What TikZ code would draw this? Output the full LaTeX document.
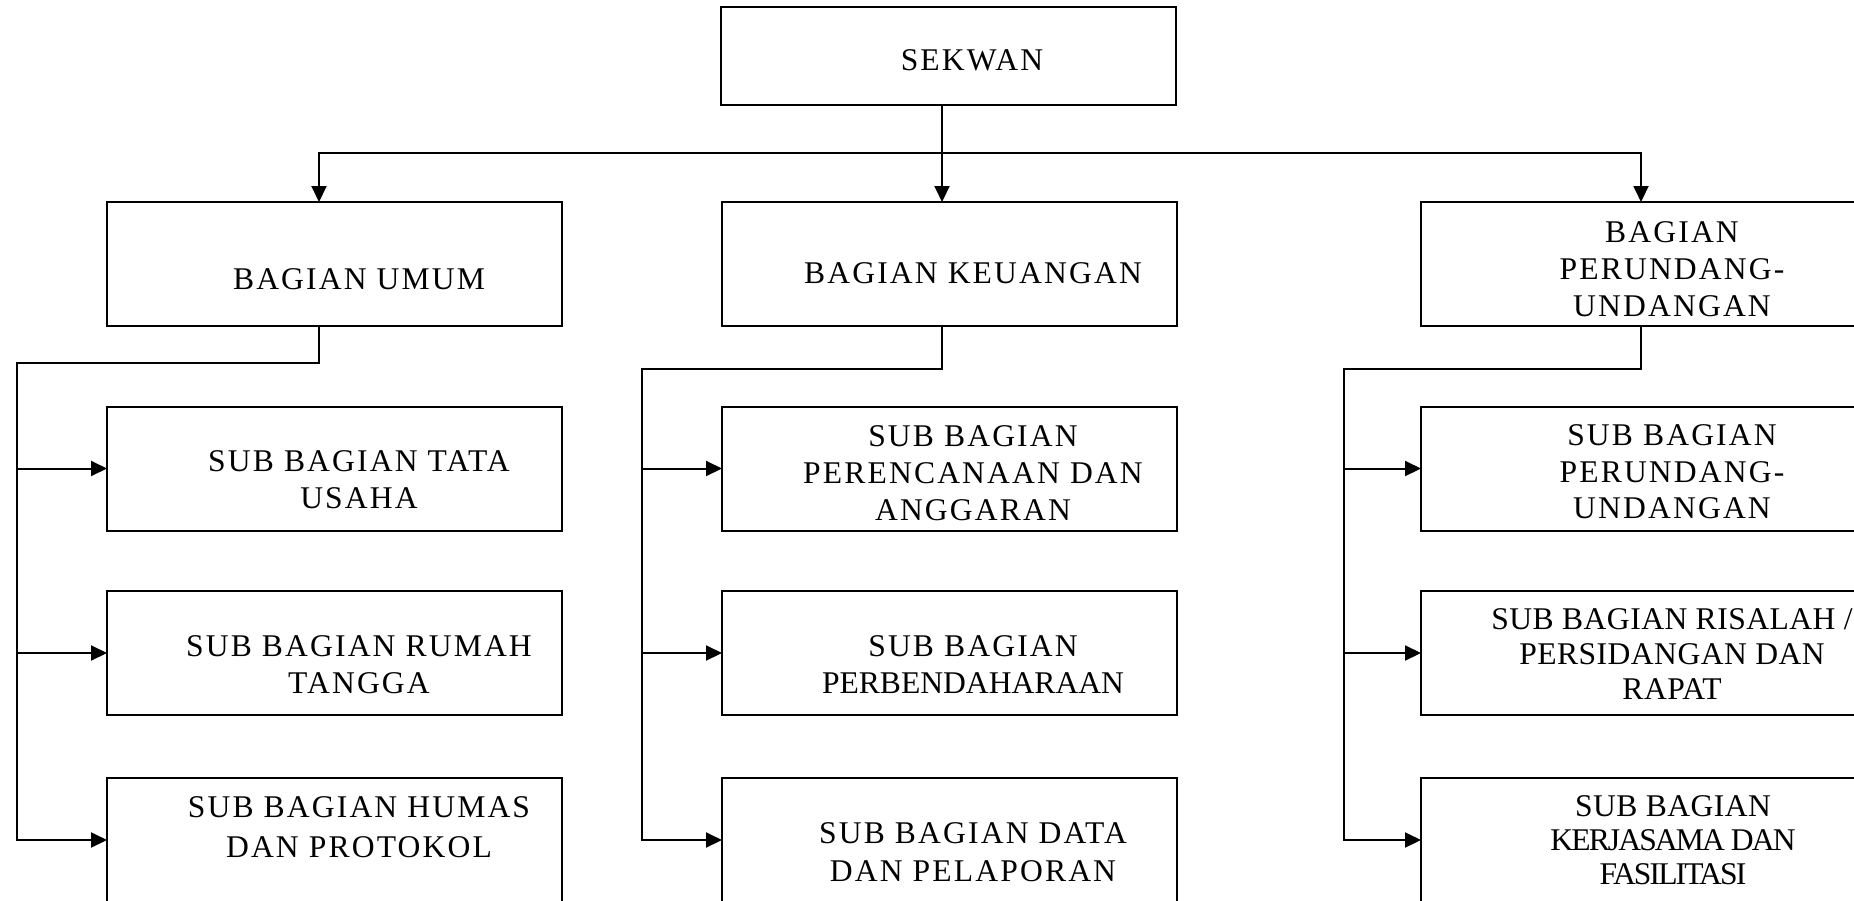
\documentclass[tikz,border=0pt]{standalone}
\usepackage{fontspec}
\setmainfont[LetterSpace=6.8]{Liberation Serif}
\newfontfamily\plainf{Liberation Serif}
\newfontfamily\condf[LetterSpace=-6]{Liberation Serif}
\newfontfamily\slightf[LetterSpace=1.5]{Liberation Serif}
\usetikzlibrary{arrows.meta}
\begin{document}
\begin{tikzpicture}[x=1pt,y=-1pt,
  box/.style={draw, line width=2pt, minimum width=455pt, minimum height=124pt, inner sep=0pt, outer sep=0pt},
  txt/.style={align=center, inner sep=0pt, font=\fontsize{31.6}{37}\selectfont},
  tighttxt/.style={align=center, inner sep=0pt, font=\fontsize{31.6}{35}\selectfont\slightf},
  conn/.style={line width=2pt},
  tip/.tip={Triangle[length=16pt,width=15pt]},
  arr/.style={conn, -tip}]
\useasboundingbox (0,0) rectangle (1854,900);
\clip (0,0) rectangle (1854,900);

% boxes
\node[box, minimum height=98pt] (sekwan) at (948.5,56) {};
\node[box] (umum) at (334.5,264) {};
\node[box] (keu)  at (949.5,264) {};
\node[box] (per)  at (1648.5,264) {};
\node[box] (u1) at (334.5,468.5) {};
\node[box] (u2) at (334.5,653) {};
\node[box] (u3) at (334.5,840) {};
\node[box] (k1) at (949.5,468.5) {};
\node[box] (k2) at (949.5,653) {};
\node[box] (k3) at (949.5,840) {};
\node[box] (p1) at (1648.5,468.5) {};
\node[box] (p2) at (1648.5,653) {};
\node[box] (p3) at (1648.5,840) {};

% texts
\node[txt] (tsekwan) at (972,60.5) {SEKWAN};
\node[txt] (tumum) at (359,279) {BAGIAN UMUM};
\node[txt] (tkeu) at (973,273) {BAGIAN KEUANGAN};
\node[txt] (tper) at (1672,269) {BAGIAN\\PERUNDANG-\\UNDANGAN};
\node[txt] (tu1) at (359,480) {SUB BAGIAN TATA\\USAHA};
\node[txt] (tu2) at (359,664.5) {SUB BAGIAN RUMAH\\TANGGA};
\node[txt, font=\fontsize{31.6}{39.5}\selectfont] (tu3) at (359,827) {SUB BAGIAN HUMAS\\DAN PROTOKOL};
\node[txt] (tk1) at (973,473) {SUB BAGIAN\\PERENCANAAN DAN\\ANGGARAN};
\node[txt] (tk2) at (973,664.5) {SUB BAGIAN\\{\plainf PERBENDAHARAAN}};
\node[txt, font=\fontsize{31.6}{38}\selectfont] (tk3) at (973,852) {SUB BAGIAN DATA\\DAN PELAPORAN};
\node[txt, font=\fontsize{31.6}{36.5}\selectfont] (tp1) at (1672,472) {SUB BAGIAN\\PERUNDANG-\\UNDANGAN};
\node[tighttxt] (tp2) at (1672,654) {SUB BAGIAN RISALAH /\\PERSIDANGAN DAN\\RAPAT};
\node[tighttxt, font=\fontsize{31.6}{34}\selectfont\slightf] (tp3) at (1673,840.5) {SUB BAGIAN\\{\condf KERJASAMA DAN}\\{\condf FASILITASI}};

% top level connectors
\coordinate (j0) at (942,153);
\coordinate (jl) at (319,153);
\coordinate (jr) at (1641,153);
\draw[conn, tip-tip] (umum.north -| jl) -- (jl) -- (jr) -- (per.north -| jr);
\draw[arr] (sekwan.south -| j0) -- (keu.north -| j0);

% umum branch
\coordinate (uL) at (17,363);
\draw[arr] (umum.south -| jl) |- (uL) -- (uL |- u3.west) -- (u3.west);
\draw[arr] (uL |- u1.west) -- (u1.west);
\draw[arr] (uL |- u2.west) -- (u2.west);

% keuangan branch
\coordinate (kL) at (642,369);
\draw[arr] (keu.south -| j0) |- (kL) -- (kL |- k3.west) -- (k3.west);
\draw[arr] (kL |- k1.west) -- (k1.west);
\draw[arr] (kL |- k2.west) -- (k2.west);

% perundang branch
\coordinate (pL) at (1344,369);
\draw[arr] (per.south -| jr) |- (pL) -- (pL |- p3.west) -- (p3.west);
\draw[arr] (pL |- p1.west) -- (p1.west);
\draw[arr] (pL |- p2.west) -- (p2.west);
\end{tikzpicture}
\end{document}
